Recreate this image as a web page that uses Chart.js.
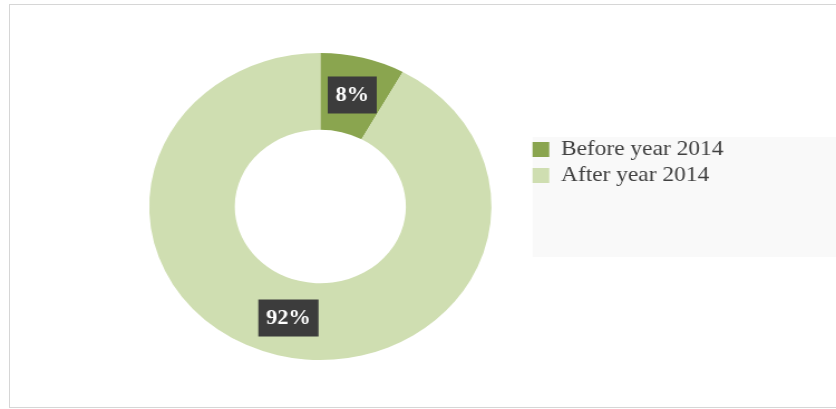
<!DOCTYPE html>
<html>
<head>
<meta charset="utf-8">
<script src="https://cdn.jsdelivr.net/npm/chart.js@4/dist/chart.umd.min.js"></script>
<style>
  html, body { margin: 0; padding: 0; background: #fff; }
  body { width: 836px; height: 409px; position: relative; overflow: hidden; }
  #frame {
    position: absolute; left: 9px; top: 4px; width: 840px; height: 402px;
    border-left: 1px solid #d6d6d6; border-top: 1px solid #d6d6d6; border-bottom: 1px solid #d6d6d6;
  }
  /* the original picture is stretched a bit in x, so the whole canvas is too */
  #wrap { position: absolute; left: 0; top: 0; width: 750px; height: 409px;
          transform: scaleX(1.1147); transform-origin: 0 0; }
</style>
</head>
<body>
<div id="frame"></div>
<div id="wrap"><canvas id="myGraf" width="750" height="409"></canvas></div>
<script>
var categories = ["Before year 2014", "After year 2014"];
var shares = [8, 92];
var sliceLabels = ["8%", "92%"];
var sliceColors = ['#8aa54f', '#cfdeb1'];

var legendFont = '"Liberation Serif", "Times New Roman", serif';
var legendSize = 21;
var legendPad = 5;

// width the legend will take, so the doughnut stays where it was
function legendWidth() {
    var m = document.createElement('canvas').getContext('2d');
    m.font = legendSize + 'px ' + legendFont;
    var tw = Math.max.apply(null, categories.map(function(t) { return m.measureText(t).width; }));
    return legendPad + 15 + legendSize / 2 + tw + 10;
}
var padRight = Math.max(0, Math.floor(750 - 472 - legendWidth()));

// grey box behind the legend
var legendBack = {
    id: 'legendBack',
    beforeDraw: function(chart) {
        var lg = chart.legend;
        var ctx = chart.ctx;
        ctx.save();
        ctx.fillStyle = '#f9f9f9';
        ctx.fillRect(lg.left + legendPad, lg.top + 3, chart.width - lg.left, 120);
        ctx.restore();
    }
};

// dark label boxes on the slices
var sliceTags = {
    id: 'sliceTags',
    afterDatasetsDraw: function(chart) {
        var ctx = chart.ctx;
        var meta = chart.getDatasetMeta(0);
        ctx.save();
        ctx.font = 'bold 20px "Liberation Serif", "Times New Roman", serif';
        ctx.textAlign = 'center';
        ctx.textBaseline = 'middle';
        meta.data.forEach(function(arc, i) {
            var p = arc.getCenterPoint();
            var txt = sliceLabels[i];
            var w = ctx.measureText(txt).width + 14;
            var h = 37;
            ctx.fillStyle = '#3c3c3c';
            ctx.fillRect(p.x - w / 2, p.y - h / 2, w, h);
            ctx.fillStyle = '#ffffff';
            ctx.fillText(txt, p.x, p.y + 1);
        });
        ctx.restore();
    }
};

var ctx = document.getElementById('myGraf').getContext('2d');
var myGraf = new Chart(ctx, {
    type: 'doughnut',
    data: {
        labels: categories,
        datasets: [{
            data: shares,
            backgroundColor: sliceColors,
            borderWidth: 0,
            radius: 153.5,
            clip: false
        }]
    },
    options: {
        responsive: false,
        devicePixelRatio: 1,
        animation: false,
        cutout: '50%',
        layout: {
            padding: { left: 102, right: padRight, top: 134, bottom: 130 }
        },
        plugins: {
            legend: {
                display: true,
                position: 'right',
                align: 'start',
                labels: {
                    boxWidth: 15,
                    boxHeight: 15,
                    padding: legendPad,
                    color: '#404040',
                    font: { family: legendFont, size: legendSize }
                }
            },
            tooltip: { enabled: false }
        }
    },
    plugins: [legendBack, sliceTags]
});
</script>
</body>
</html>
